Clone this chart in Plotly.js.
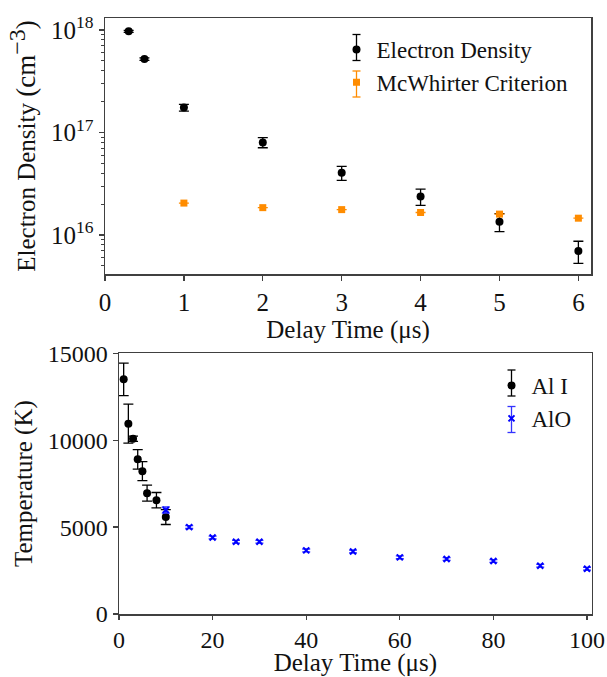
<!DOCTYPE html>
<html>
<head>
<meta charset="utf-8">
<script src="https://cdn.plot.ly/plotly-3.0.1.min.js"></script>
<style>html,body{margin:0;padding:0;background:#fff;}</style>
</head>
<body>
<div id="chart" style="width:607px;height:677px;"></div>
<script>
// ---- Top panel: electron density ----
const neDelay = [0.3, 0.5, 1, 2, 3, 4, 5, 6];
const neValue = [9.7e17, 5.2e17, 1.75e17, 8.0e16, 4.05e16, 2.38e16, 1.35e16, 7.0e15];
const neError = [2.0e16, 1.5e16, 1.35e16, 0.9e16, 0.63e16, 0.43e16, 0.27e16, 1.7e15];
const mcDelay = [1, 2, 3, 4, 5, 6];
const mcValue = [2.05e16, 1.85e16, 1.77e16, 1.66e16, 1.60e16, 1.46e16];
const mcError = [0, 0, 0, 0, 0, 0];

// ---- Bottom panel: temperature ----
const alIDelay = [1, 2, 3, 4, 5, 6, 8, 10];
const alITemp  = [13500, 10950, 10080, 8900, 8220, 6950, 6550, 5580];
const alIError = [940, 1120, 150, 560, 550, 460, 440, 430];
const alODelay = [10, 15, 20, 25, 30, 40, 50, 60, 70, 80, 90, 100];
const alOTemp  = [5980, 5000, 4400, 4160, 4160, 3660, 3600, 3260, 3160, 3050, 2780, 2600];
const alOError = [180, 80, 80, 80, 80, 80, 80, 80, 80, 80, 80, 80];

const FONT = 'Times New Roman';
const AX = '#404040';
const TXT = '#111';

const majorLog = [1e16, 1e17, 1e18];
const majorLogText = ['10<sup>16</sup>', '10<sup>17</sup>', '10<sup>18</sup>'];
const minorLog = [];
[1e15, 1e16, 1e17].forEach(d => { for (let k = 2; k <= 9; k++) minorLog.push(k * d); });

const traces = [
  {x: neDelay, y: neValue, type: 'scatter', mode: 'markers', name: 'Electron Density',
   marker: {color: '#000', size: 8, symbol: 'circle'},
   error_y: {type: 'data', array: neError, visible: true, color: '#000', thickness: 1.3, width: 5},
   xaxis: 'x', yaxis: 'y', legend: 'legend'},
  {x: mcDelay, y: mcValue, type: 'scatter', mode: 'markers', name: 'McWhirter Criterion',
   marker: {color: '#ff8c00', size: 7, symbol: 'square'},
   error_y: {type: 'data', array: mcError, visible: true, color: '#ff8c00', thickness: 1.3, width: 5},
   xaxis: 'x', yaxis: 'y', legend: 'legend'},
  {x: alIDelay, y: alITemp, type: 'scatter', mode: 'markers', name: 'Al I',
   marker: {color: '#000', size: 8, symbol: 'circle'},
   error_y: {type: 'data', array: alIError, visible: true, color: '#000', thickness: 1.3, width: 5},
   xaxis: 'x2', yaxis: 'y2', legend: 'legend2'},
  {x: alODelay, y: alOTemp, type: 'scatter', mode: 'markers', name: 'AlO',
   marker: {color: '#0000ff', size: 6, symbol: 'x-thin', line: {color: '#0000ff', width: 2}},
   error_y: {type: 'data', array: alOError, visible: true, color: '#3333ff', thickness: 1.3, width: 4},
   xaxis: 'x2', yaxis: 'y2', legend: 'legend2'}
];

const axCommon = {
  showline: true, linecolor: AX, linewidth: 1.5, mirror: true,
  ticks: 'outside', ticklen: 5, tickwidth: 1.3, tickcolor: AX,
  showgrid: false, zeroline: false, automargin: false,
  tickfont: {family: FONT, size: 25, color: TXT}
};
const titleFont = {family: FONT, size: 25, color: TXT};

// legend error-bar glyphs (decoration drawn in page pixels)
const W = 607, H = 677;
function legendBar(px, py, color) {
  const half = 13, cap = 4;
  return [
    {type: 'line', xref: 'paper', yref: 'paper', x0: px / W, x1: px / W, y0: 1 - (py - half) / H, y1: 1 - (py + half) / H, line: {color: color, width: 1.3}},
    {type: 'line', xref: 'paper', yref: 'paper', x0: (px - cap) / W, x1: (px + cap) / W, y0: 1 - (py - half) / H, y1: 1 - (py - half) / H, line: {color: color, width: 1.3}},
    {type: 'line', xref: 'paper', yref: 'paper', x0: (px - cap) / W, x1: (px + cap) / W, y0: 1 - (py + half) / H, y1: 1 - (py + half) / H, line: {color: color, width: 1.3}}
  ];
}

const layout = {
  width: W, height: H,
  margin: {l: 0, r: 0, t: 0, b: 0},
  paper_bgcolor: '#fff', plot_bgcolor: '#fff',
  font: {family: FONT, color: TXT, size: 24},
  showlegend: true,
  xaxis: Object.assign({}, axCommon, {
    domain: [105/607, 591/607], range: [0, 6.16], tickmode: 'linear', tick0: 0, dtick: 1,
    anchor: 'y',
    title: {text: 'Delay Time (μs)', font: titleFont, standoff: 2}
  }),
  yaxis: Object.assign({}, axCommon, {
    domain: [1 - 274/677, 1 - 18/677], type: 'log', range: [15.62, 18.117],
    tickmode: 'array', tickvals: majorLog, ticktext: majorLogText, anchor: 'x',
    minor: {ticks: 'outside', ticklen: 3, tickwidth: 1, tickcolor: AX, tickmode: 'array', tickvals: minorLog},
    title: {text: 'Electron Density <span style="font-size:27px">(cm</span><sup><span style="font-size:24px">−3</span></sup><span style="font-size:27px">)</span>', font: titleFont, standoff: 8}
  }),
  xaxis2: Object.assign({}, axCommon, {
    domain: [119/607, 591.7/607], range: [0, 101], tickmode: 'linear', tick0: 0, dtick: 20,
    anchor: 'y2', ticklen: 4, tickfont: {family: FONT, size: 24, color: TXT},
    title: {text: 'Delay Time (μs)', font: titleFont, standoff: 5}
  }),
  yaxis2: Object.assign({}, axCommon, {
    domain: [1 - 614/677, 1 - 353.3/677], range: [0, 15000], tickmode: 'linear', tick0: 0, dtick: 5000,
    tickformat: 'd', tickfont: {family: FONT, size: 24, color: TXT},
    anchor: 'x2',
    title: {text: 'Temperature (K)', font: titleFont, standoff: 8}
  }),
  legend: {
    x: 336.5/607, y: 1 - 28/677, xanchor: 'left', yanchor: 'top',
    bgcolor: 'rgba(0,0,0,0)', borderwidth: 0,
    font: {family: FONT, size: 23, color: TXT}, itemwidth: 30, tracegroupgap: 6
  },
  legend2: {
    x: 491.5/607, y: 1 - 364/677, xanchor: 'left', yanchor: 'top',
    bgcolor: 'rgba(0,0,0,0)', borderwidth: 0,
    font: {family: FONT, size: 23, color: TXT}, itemwidth: 30, tracegroupgap: 6
  },
  shapes: [].concat(
    legendBar(356.5, 47.5, '#000'),
    legendBar(356.5, 84, '#ff8c00'),
    legendBar(511.5, 383, '#000'),
    legendBar(511.5, 419.5, '#3333ff')
  )
};

Plotly.newPlot('chart', traces, layout, {staticPlot: true, displayModeBar: false});
</script>
</body>
</html>
